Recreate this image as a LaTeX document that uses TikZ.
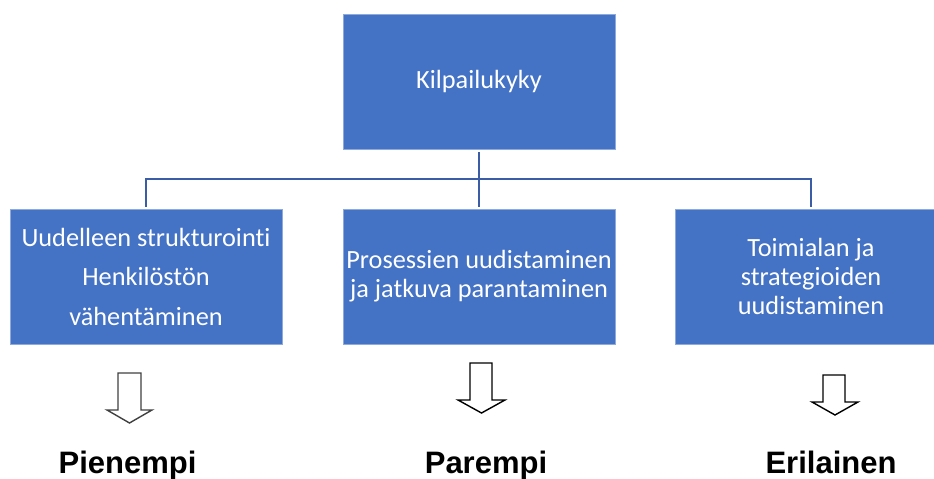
\documentclass[tikz,border=0pt]{standalone}
\usepackage{fontspec}
\setmainfont{Carlito}[Ligatures=NoCommon]
\newfontfamily\labelfont{Liberation Sans}
\definecolor{boxblue}{HTML}{4472C4}
\definecolor{boxedge}{HTML}{8EA9DB}
\definecolor{linkblue}{HTML}{3A5DA6}
\begin{document}
\begin{tikzpicture}[x=1bp,y=-1bp,
  boxnode/.style={fill=boxblue,draw=boxedge,line width=0.6bp,minimum width=272bp,minimum height=135bp,
    inner sep=0pt,text=white,align=center,font=\fontsize{26.3bp}{29bp}\selectfont},
  link/.style={draw=linkblue,line width=2bp},
  openarrow/.style={draw=black,line width=1.4bp,fill=white,line join=miter},
  result/.style={font=\labelfont\bfseries\fontsize{31bp}{34bp}\selectfont,anchor=base,inner sep=0pt}]
\useasboundingbox (0,0) rectangle (934,479);
\clip (0,0) rectangle (934,479);
\node[boxnode] (top) at (479,81.5) {Kilpailukyky};
\node[boxnode,font=\fontsize{26.3bp}{39.5bp}\selectfont] (b1) at (146,276.5) {Uudelleen strukturointi\\Henkilöstön\\vähentäminen};
\node[boxnode] (b2) at (479,276.5) {Prosessien uudistaminen\\ja jatkuva parantaminen};
\node[boxnode] (b3) at (811,276.5) {Toimialan ja\\strategioiden\\uudistaminen};
\coordinate (j) at (479,179);
\draw[link,shorten <=3bp,shorten >=2bp] (top.south) -- (b2.north);
\draw[link,shorten >=2bp] (j) -| (b1.north);
\draw[link,shorten >=2bp] (j) -| (b3.north);
% open block arrows
\draw[openarrow,draw=black!75] (118,373) -- (141,373) -- (141,410) -- (152,410) -- (129.5,423) -- (107,410) -- (118,410) -- cycle;
\draw[openarrow] (470,363) -- (492,363) -- (492,400) -- (505,400) -- (481.5,413) -- (458,400) -- (470,400) -- cycle;
\draw[openarrow] (823,375) -- (845,375) -- (845,402) -- (858,402) -- (835,415) -- (812,402) -- (823,402) -- cycle;
\node[result] (r1) at (127.5,473) {Pienempi};
\node[result] (r2) at (486,473) {Parempi};
\node[result] (r3) at (831,473) {Erilainen};
\end{tikzpicture}
\end{document}
